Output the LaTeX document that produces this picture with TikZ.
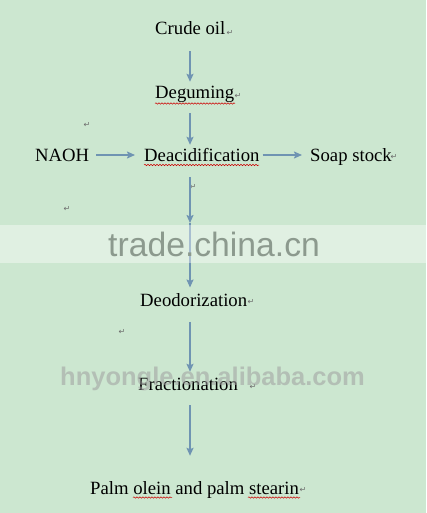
\documentclass[tikz,border=0pt]{standalone}
\usepackage{fontspec}
\setmainfont{Liberation Serif}
\newfontfamily\wmfont{Liberation Sans}
\newfontfamily\symfont{DejaVu Sans}
\usetikzlibrary{arrows.meta,decorations.pathmorphing}
\definecolor{bg}{HTML}{CCE7D0}
\definecolor{arrowc}{HTML}{6F94B2}
\definecolor{wmgray}{HTML}{8C9A8E}
\tikzset{
  lbl/.style={inner sep=0pt, anchor=base west, text height=13pt, text depth=4pt, font=\fontsize{18.7}{20}\selectfont},
  arr/.style={draw=arrowc, line width=1.6pt, -{Stealth[length=8pt,width=7pt,inset=1.5pt]}},
  ret/.style={inner sep=0pt, text=gray!85!black, font=\symfont\fontsize{8}{8}\selectfont},
  wavy/.style={draw=red!80!black, line width=0.5pt, decorate, decoration={snake, segment length=3pt, amplitude=0.7pt}}
}
\begin{document}
\begin{tikzpicture}[x=1pt,y=-1pt]
\fill[bg] (0,0) rectangle (426,513);
\useasboundingbox (0,0) rectangle (426,513);
\coordinate (ax) at (190,0);
% labels
\node[lbl] (crude) at (155,35) {Crude oil};
\node[lbl] (deg) at (155,99) {Deguming};
\node[lbl] (naoh) at (35,161) {NAOH};
\node[lbl] (deac) at (144,161) {Deacidification};
\node[lbl] (soap) at (310,161) {Soap stock};
\node[lbl] (deo) at (140,306.7) {Deodorization};
\node[lbl] (frac) at (138,390) {Fractionation};
\node[lbl] (palm) at (90,494) {Palm olein and palm stearin};
% return marks
\foreach \p in {(230,33),(238,96),(87,125),(394,157),(193,187),(67,209),(251,302),(122,332),(253,387),(303,490)}
  \node[ret] at \p {↵};
% wavy underlines
\draw[wavy] (155,103.5) -- (235,103.5);
\draw[wavy] (144,165) -- (259,165);
\draw[wavy] (133,497.5) -- (172,497.5);
\draw[wavy] (248,497.5) -- (300,497.5);
% arrows
\coordinate (mid) at (190,223);
\draw[arr, shorten <=12pt, shorten >=4pt] (crude.south -| ax) -- (deg.north -| ax);
\draw[arr, shorten <=10pt, shorten >=3pt] (deg.south -| ax) -- (deac.north -| ax);
\draw[arr, shorten <=7pt, shorten >=9pt] ([yshift=1.5pt]naoh.east) -- ([yshift=1.5pt]deac.west);
\draw[arr, shorten <=3pt, shorten >=8pt] ([yshift=1.5pt]deac.east) -- ([yshift=1.5pt]soap.west);
\draw[arr, shorten <=12pt] (deac.south -| ax) -- (mid);
\draw[arr, shorten >=6pt] (mid) -- (deo.north -| ax);
\draw[arr, shorten <=11pt, shorten >=5pt] (deo.south -| ax) -- (frac.north -| ax);
\draw[arr, shorten <=11pt, shorten >=25pt] (frac.south -| ax) -- (palm.north -| ax);
% watermark band
\fill[white, opacity=0.4] (0,225) rectangle (426,263);
\node[inner sep=0pt, anchor=base west, text=wmgray, font=\wmfont\fontsize{33.7}{34}\selectfont] (wm1) at (108,256) {trade.china.cn};
\node[inner sep=0pt, anchor=base west, text=gray!75, opacity=0.55, font=\wmfont\bfseries\fontsize{25.5}{26}\selectfont] (wm2) at (60,385) {hnyongle.en.alibaba.com};
\end{tikzpicture}
\end{document}
